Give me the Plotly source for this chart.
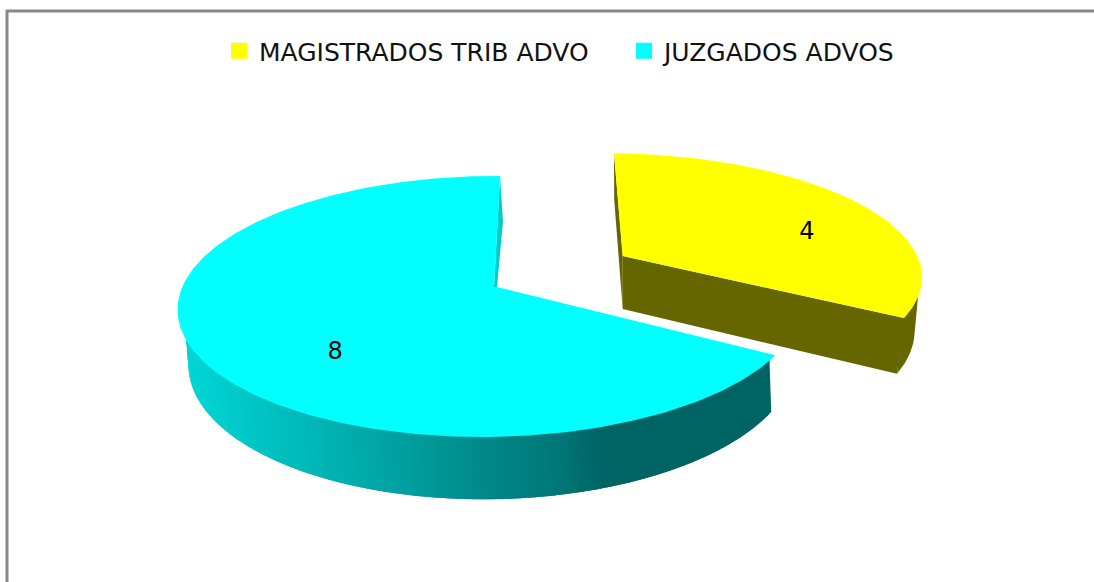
import numpy as np
import plotly.graph_objects as go

categories = ["MAGISTRADOS TRIB ADVO", "JUZGADOS ADVOS"]
values = [4, 8]
top_colors = ["#FFFF00", "#00FFFF"]
wall_colors = ["#666600", "#00CCCC"]
side_stop_x = [189, 300, 400, 480, 560, 600, 780]
side_stop_gb = [214, 186, 160, 138, 118, 100, 100]

# geometry of the tilted disc: apex, depth scale, width scale, shear, skew per slice
slice_geometry = [
    dict(ax=622.7, ay=256, a=118, b=303, s=-10, q=0.0287, low_dx=0, label_r=0.77, label_dy=19),
    dict(ax=494, ay=287, a=127.6, b=308, s=7, q=0.012, low_dx=3, label_r=0.56, label_dy=28),
]
P = 0.149
THICK, BOTTOM_SCALE = 53, 0.975


def project(g, theta, r=1.0, low=False):
    theta = np.asarray(theta, float)
    X, Y = r * np.sin(theta), r * np.cos(theta)
    w = 1 + P * Y + g["q"] * X
    dx = (g["b"] * X + g["s"] * Y) / w
    dy = -g["a"] * Y / w
    if low:
        return g["ax"] + g["low_dx"] + dx * BOTTOM_SCALE, g["ay"] + dy + THICK / w
    return g["ax"] + dx, g["ay"] + dy


def poly(x, y, color):
    return go.Scatter(x=list(x), y=list(y), mode="lines", fill="toself", fillcolor=color,
                      line=dict(width=0, color=color), hoverinfo="skip", showlegend=False)


total = sum(values)
edges = np.cumsum([0] + values) / total * 2 * np.pi
fig = go.Figure()

# yellow slice: rim, radial walls, surface
g0, g1 = slice_geometry
t0, t1 = edges[0], edges[1]
arc = np.linspace(t0, t1, 120)
tx, ty = project(g0, arc)
rim_top = np.linspace(np.radians(98), t1, 40)
rim_low = np.linspace(np.radians(104), t1, 30)
ix, iy = project(g0, rim_top, 0.995)
bx, by = project(g0, rim_low, low=True)
fig.add_trace(poly(np.r_[ix, bx[::-1]], np.r_[iy, by[::-1]], wall_colors[0]))
for t in (t0, t1):
    xa, ya = project(g0, t, 0.0)
    xb, yb = project(g0, t, 0.0, low=True)
    xc, yc = project(g0, t, 1.0, low=True)
    xd, yd = project(g0, t, 1.0)
    fig.add_trace(poly([xa, xb, xc, xd], [ya, yb, yc, yd], wall_colors[0]))
ax0, ay0 = project(g0, 0.0, 0.0)
fig.add_trace(poly(np.r_[ax0, tx], np.r_[ay0, ty], top_colors[0]))

# cyan slice: back wall, shaded rim, surface
t0, t1 = edges[1], edges[2]
xa, ya = project(g1, t1, 0.0)
xc, yc = project(g1, t1, 1.0, low=True)
xd, yd = project(g1, t1, 1.0)
fig.add_trace(poly([xa, xa + 3, xc, xd], [ya, ya, yc, yd], wall_colors[1]))
seg = np.linspace(t0, np.radians(300), 180)
for i in range(len(seg) - 1):
    part = np.linspace(seg[i], min(seg[i + 1] + 0.02, seg[-1]), 5)
    sx, sy = project(g1, part, 0.98)
    lx, ly = project(g1, part, low=True)
    gb = int(np.interp(lx.mean(), side_stop_x, side_stop_gb))
    fig.add_trace(poly(np.r_[sx, lx[::-1]], np.r_[sy, ly[::-1]], f"rgb(0,{gb},{gb})"))
arc = np.linspace(t0, t1, 240)
tx, ty = project(g1, arc)
ax1, ay1 = project(g1, 0.0, 0.0)
fig.add_trace(poly(np.r_[ax1 + 3, tx, ax1], np.r_[ay1, ty, ay1], top_colors[1]))

# data labels
for g, v, lo, hi in zip(slice_geometry, values, edges[:-1], edges[1:]):
    lx, ly = project(g, (lo + hi) / 2, g["label_r"])
    fig.add_trace(go.Scatter(x=[float(lx)], y=[float(ly) + g["label_dy"]], mode="text", text=[str(v)],
                             textfont=dict(family="DejaVu Sans", size=24, color="#000000"),
                             textposition="middle center", hoverinfo="skip", showlegend=False))

# legend entries
for name, color in zip(categories, top_colors):
    fig.add_trace(go.Scatter(x=[None], y=[None], mode="markers", name=name,
                             marker=dict(symbol="square", size=14, color=color,
                                         line=dict(width=2, color=color))))

fig.update_layout(
    width=1094, height=582, margin=dict(l=0, r=0, t=0, b=0),
    paper_bgcolor="#FFFFFF", plot_bgcolor="#FFFFFF",
    xaxis=dict(range=[0, 1094], visible=False, fixedrange=True),
    yaxis=dict(range=[582, 0], visible=False, fixedrange=True),
    legend=dict(orientation="h", x=219 / 1094, y=1 - 28 / 582, xanchor="left", yanchor="top",
                font=dict(family="DejaVu Sans", size=25, color="#111111"),
                itemsizing="trace", traceorder="normal", bgcolor="rgba(0,0,0,0)",
                entrywidth=360, entrywidthmode="pixels"),
    shapes=[dict(type="path", path="M 7 582 L 7 11 L 1094 11",
                 line=dict(color="#888888", width=3), layer="above")],
)
fig.write_html("out.html", config=dict(displayModeBar=False),
               post_script="document.body.style.margin='0';")
